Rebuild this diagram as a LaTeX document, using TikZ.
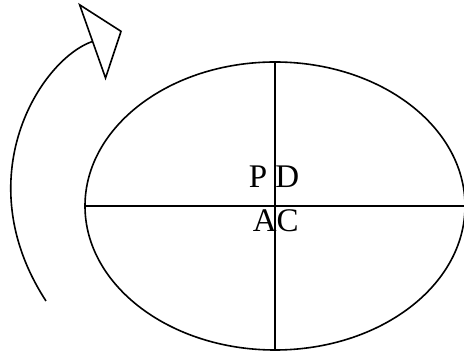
\documentclass[tikz,border=0pt]{standalone}
\usepackage{fontspec}
\setmainfont{Liberation Serif}
\usetikzlibrary{arrows.meta,shapes.geometric}

\begin{document}
\begin{tikzpicture}[
    x=.5pt,y=-.5pt,
    line width=.8pt,
    oval/.style={ellipse,draw,minimum width=190pt,minimum height=144pt,inner sep=0pt},
    lbl/.style={font=\fontsize{16.5}{18}\selectfont,inner sep=0pt,anchor=base west},
    turn/.style={-{Triangle[open,length=16pt,width=41pt]}}
  ]
    \useasboundingbox (0,0) rectangle (464,356);
    \node[oval] (cell) at (275,206) {};
    \draw (cell.west)--(cell.east);
    \draw (cell.north)--(cell.south);
    \node[lbl] (pd) at (248,188) {P D};
    \node[lbl] (ac) at (252,232) {AC};
    \coordinate (s) at (46,301); \coordinate (t) at (122,31);
    \draw[turn] (s) .. controls (-34,178) and (40,60) .. (t);
  \end{tikzpicture}
\end{document}
